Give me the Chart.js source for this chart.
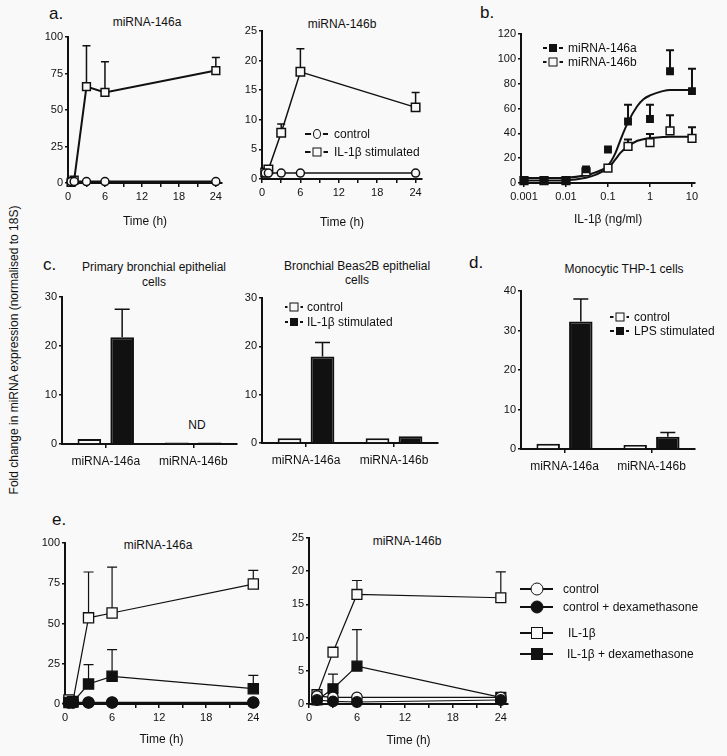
<!DOCTYPE html>
<html>
<head>
<meta charset="utf-8">
<script src="https://cdn.jsdelivr.net/npm/chart.js@4.4.0/dist/chart.umd.min.js"></script>
<style>
  html, body { margin: 0; padding: 0; background: #f9f9f9; }
  body {
    width: 727px; height: 756px; position: relative; overflow: hidden;
    font-family: "Liberation Sans", Arial, Helvetica, sans-serif; color: #111;
  }
  canvas { position: absolute; }
  .txt { position: absolute; font-size: 12px; line-height: 14px; white-space: nowrap; transform: translate(-50%, -50%); }
  .letter { position: absolute; font-size: 17px; line-height: 18px; transform: translateY(-50%); }
  .ylab { position: absolute; left: 14px; top: 350px; font-size: 12px; white-space: nowrap; transform: translate(-50%, -50%) rotate(-90deg); }
  .legtxt { position: absolute; font-size: 12px; line-height: 14px; white-space: nowrap; transform: translateY(-50%); }
  .sym { position: absolute; height: 0; }
  .sym .ln { position: absolute; left: 0; right: 0; top: -0.75px; height: 1.5px; background: #111; }
  .sym .mk { position: absolute; left: 50%; top: 0; transform: translate(-50%, -50%); box-sizing: border-box;
             border: 1.5px solid #111; background: #f9f9f9; }
</style>
</head>
<body>

<div class="ylab">Fold change in miRNA expression (normalised to 18S)</div>

<div class="letter" style="left:49px; top:14px;">a.</div>
<div class="letter" style="left:480px; top:13px;">b.</div>
<div class="letter" style="left:43px; top:265px;">c.</div>
<div class="letter" style="left:469px; top:263px;">d.</div>
<div class="letter" style="left:52px; top:520px;">e.</div>

<div class="txt" style="left:147px; top:22px;">miRNA-146a</div>
<div class="txt" style="left:342px; top:24px;">miRNA-146b</div>
<div class="txt" style="left:154px; top:267px;">Primary bronchial epithelial</div>
<div class="txt" style="left:154px; top:282px;">cells</div>
<div class="txt" style="left:357px; top:266px;">Bronchial Beas2B epithelial</div>
<div class="txt" style="left:357px; top:280px;">cells</div>
<div class="txt" style="left:624px; top:269px;">Monocytic THP-1 cells</div>
<div class="txt" style="left:158px; top:545px;">miRNA-146a</div>
<div class="txt" style="left:407px; top:541px;">miRNA-146b</div>
<div class="txt" style="left:197px; top:425px;">ND</div>

<script>
// ---- data ----
const hourTicks = [0, 3, 6, 9, 12, 15, 18, 21, 24];
const doseTicks = [0.001, 0.01, 0.1, 1, 10];
const mirs = ["miRNA-146a", "miRNA-146b"];

// a. IL-1β time course
const timeA1 = [0.5, 1, 3, 6, 24];
const a1Control = [1, 1, 1, 1, 1];
const a1IL = [0.5, 2, 66, 62, 77];
const a1ILErr = [null, null, 94, 83, 86];
const timeA2 = [0.5, 1, 3, 6, 24];
const a2Control = [1, 1, 1, 1, 1];
const a2IL = [1.1, 1.6, 7.8, 18.1, 12.1];
const a2ILErr = [null, null, 9.3, 22, 14.6];

// b. dose response
const doseB = [0.001, 0.003, 0.01, 0.03, 0.1, 0.3, 1, 3, 10];
const b146a = [2, 2, 2, 11, 27, 49.5, 51.5, 90, 74];
const b146aErr = [null, null, null, null, null, 63, 63, 107, 92];
const b146b = [2, 2, 2, 9, 12, 29.5, 32.5, 42, 36];
const b146bErr = [null, null, null, null, null, 35, 39.5, 54.5, 45];
const fitDose = [0.001, 0.01, 0.03, 0.05, 0.1, 0.15, 0.2, 0.3, 0.5, 0.7, 1, 2, 3, 10];
const fit146a = [4, 4.3, 6.2, 8.5, 14, 24, 35, 49, 62, 67.5, 70.5, 74, 75, 75];
const fit146b = [2, 2.3, 4.3, 6.5, 12, 19, 24.5, 29.5, 34, 35.3, 36.2, 37, 37.3, 37.3];

// c. epithelial cells (146b in primary cells not detected)
const c1Control = [1.0, 0.3];
const c1IL = [21.8, 0.3];
const c1ILErr = [27.5, null];
const c2Control = [1.0, 1.0];
const c2IL = [17.9, 1.4];
const c2ILErr = [20.8, null];

// d. THP-1 cells
const dControl = [1.3, 1.0];
const dLPS = [32.3, 3.1];
const dLPSErr = [38, 4.2];

// e. dexamethasone
const timeE1 = [0.5, 1, 3, 6, 24];
const e1Control = [1, 1, 1, 1, 1];
const e1ControlDex = [0.8, 0.8, 0.8, 0.8, 0.8];
const e1IL = [2.5, 1.5, 53.5, 56.5, 74.5];
const e1ILErr = [null, null, 82, 85, 83];
const e1ILDex = [1.0, 1.2, 12.4, 17.2, 9.5];
const e1ILDexErr = [null, null, 24.5, 33.8, 17.8];
const timeE2 = [1, 3, 6, 24];
const e2Control = [1.2, 1.0, 1.0, 1.0];
const e2ControlDex = [0.6, 0.4, 0.3, 0.6];
const e2IL = [1.4, 7.8, 16.5, 16.0];
const e2ILErr = [null, null, 18.6, 19.9];
const e2ILDex = [0.6, 2.3, 5.7, 1.0];
const e2ILDexErr = [null, 4.5, 11.2, null];

// ---- setup ----
const INK = "#111";
const BG = "#f9f9f9";
Chart.defaults.font.family = '"Liberation Sans", Arial, Helvetica, sans-serif';
Chart.defaults.font.size = 11;
Chart.defaults.color = INK;

// upper error bars, drawn under the markers
const errorBars = {
  id: "errorBars",
  beforeDatasetsDraw(chart) {
    const ctx = chart.ctx;
    chart.data.datasets.forEach(function (ds, di) {
      if (!ds.errors) return;
      const meta = chart.getDatasetMeta(di);
      const ys = chart.scales[meta.yAxisID];
      ctx.save();
      ctx.strokeStyle = INK;
      ctx.lineWidth = ds.errWidth || 1.5;
      ds.errors.forEach(function (e, i) {
        if (e == null) return;
        const el = meta.data[i];
        const top = ys.getPixelForValue(e);
        const half = (ds.capWidth || 8) / 2;
        ctx.beginPath();
        ctx.moveTo(el.x, el.y);
        ctx.lineTo(el.x, top);
        ctx.moveTo(el.x - half, top);
        ctx.lineTo(el.x + half, top);
        ctx.stroke();
      });
      ctx.restore();
    });
  },
};

// canvas placed so that the plot area lands on box {l,t,r,b}
function makeCanvas(box) {
  const c = document.createElement("canvas");
  const w = box.r - box.l + 40 + 16;
  const h = box.b - box.t + 14 + box.xh;
  c.width = w;
  c.height = h;
  c.style.left = box.l - 40 + "px";
  c.style.top = box.t - 14 + "px";
  c.style.width = w + "px";
  c.style.height = h + "px";
  document.body.appendChild(c);
  return c;
}

function yAxis(max, step) {
  return {
    min: 0,
    max: max,
    ticks: { stepSize: step, padding: 2 },
    grid: { drawOnChartArea: false, tickLength: 3, color: INK, lineWidth: 1.5 },
    border: { color: INK, width: 2 },
    afterFit: function (s) { s.width = 40; },
  };
}

function timeAxis(max, xh) {
  return {
    type: "linear",
    min: 0,
    max: max,
    afterBuildTicks: function (s) { s.ticks = hourTicks.map(function (v) { return { value: v }; }); },
    ticks: {
      autoSkip: false, maxRotation: 0, padding: 3,
      callback: function (v) { return v % 6 === 0 ? String(v) : ""; },
    },
    grid: { drawOnChartArea: false, tickLength: 4, color: INK, lineWidth: 1.5 },
    border: { color: INK, width: 2 },
    title: { display: true, text: "Time (h)", font: { size: 12 }, padding: 0 },
    afterFit: function (s) { s.height = xh; },
  };
}

function catAxis() {
  return {
    type: "category",
    offset: true,
    ticks: { padding: 6, font: { size: 12 } },
    grid: { offset: false, drawOnChartArea: false, tickLength: 4, color: INK, lineWidth: 1.5 },
    border: { color: INK, width: 2 },
    afterFit: function (s) { s.height = 30; },
  };
}

function series(xs, ys, errs, style) {
  return Object.assign({
    data: xs.map(function (x, i) { return { x: x, y: ys[i] }; }),
    errors: errs,
    borderColor: INK,
    borderWidth: 2,
    pointBorderColor: INK,
    pointBorderWidth: 1.5,
    pointBackgroundColor: BG,
    pointStyle: "rect",
    pointRadius: 6,
    clip: false,
    tension: 0,
  }, style);
}

function baseOptions(scales) {
  return {
    responsive: false,
    animation: false,
    events: [],
    layout: { padding: { left: 0, top: 14, right: 16, bottom: 0 } },
    plugins: { legend: { display: false }, tooltip: { enabled: false } },
    scales: scales,
  };
}

function lineChart(box, datasets, xMax, yMax, yStep) {
  new Chart(makeCanvas(box), {
    type: "line",
    data: { datasets: datasets },
    options: baseOptions({ x: timeAxis(xMax, box.xh), y: yAxis(yMax, yStep) }),
    plugins: [errorBars],
  });
}

function barChart(box, ctrl, stim, stimErr, yMax) {
  new Chart(makeCanvas(box), {
    type: "bar",
    data: {
      labels: mirs,
      datasets: [
        { data: ctrl, backgroundColor: BG, borderColor: INK, borderWidth: 2,
          categoryPercentage: 0.75, barPercentage: 0.72 },
        { data: stim, errors: stimErr, capWidth: 15, errWidth: 1.5,
          backgroundColor: INK, borderColor: INK, borderWidth: 2,
          categoryPercentage: 0.75, barPercentage: 0.72 },
      ],
    },
    options: baseOptions({ x: catAxis(), y: yAxis(yMax, 10) }),
    plugins: [errorBars],
  });
}

// ---- a. ----
lineChart({ l: 68, t: 37, r: 222, b: 183, xh: 46 }, [
  series(timeA1, a1Control, null, { pointStyle: "circle", pointRadius: 4 }),
  series(timeA1, a1IL, a1ILErr, { pointRadius: 5.5, capWidth: 8 }),
], 25, 100, 25);

lineChart({ l: 262, t: 31, r: 422, b: 179, xh: 51 }, [
  series(timeA2, a2Control, null, { pointStyle: "circle", pointRadius: 4, borderWidth: 1.5 }),
  series(timeA2, a2IL, a2ILErr, { pointRadius: 6, capWidth: 8, borderWidth: 1.5 }),
], 25, 25, 5);

// ---- b. ----
new Chart(makeCanvas({ l: 521, t: 34, r: 695, b: 183, xh: 44 }), {
  type: "line",
  data: {
    datasets: [
      series(doseB, b146a, b146aErr, { showLine: false, pointBackgroundColor: INK, pointRadius: 4.5, capWidth: 8, errWidth: 2 }),
      series(doseB, b146b, b146bErr, { showLine: false, pointRadius: 5.5, capWidth: 8, errWidth: 2 }),
      series(fitDose, fit146a, null, { pointRadius: 0, cubicInterpolationMode: "monotone" }),
      series(fitDose, fit146b, null, { pointRadius: 0, cubicInterpolationMode: "monotone" }),
    ],
  },
  options: baseOptions({
    x: {
      type: "logarithmic",
      min: 0.000849,
      max: 11.8,
      afterBuildTicks: function (s) { s.ticks = doseTicks.map(function (v) { return { value: v }; }); },
      ticks: { autoSkip: false, maxRotation: 0, padding: 3, callback: function (v) { return String(v); } },
      grid: { drawOnChartArea: false, tickLength: 4, color: INK, lineWidth: 1.5 },
      border: { color: INK, width: 2 },
      title: { display: true, text: "IL-1β (ng/ml)", font: { size: 12 }, padding: 0 },
      afterFit: function (s) { s.height = 44; },
    },
    y: yAxis(120, 20),
  }),
  plugins: [errorBars],
});

// ---- c. and d. ----
barChart({ l: 62, t: 297, r: 237, b: 444, xh: 30 }, c1Control, c1IL, c1ILErr, 30);
barChart({ l: 262, t: 298, r: 438, b: 443, xh: 30 }, c2Control, c2IL, c2ILErr, 30);
barChart({ l: 521, t: 291, r: 695, b: 449, xh: 30 }, dControl, dLPS, dLPSErr, 40);

// ---- e. ----
const thin = { borderWidth: 1.2, pointBorderWidth: 1.3, errWidth: 1.2, capWidth: 10 };
lineChart({ l: 65, t: 543, r: 258, b: 704, xh: 43 }, [
  series(timeE1, e1ControlDex, null, Object.assign({}, thin, { pointStyle: "circle", pointRadius: 5.5, pointBackgroundColor: INK })),
  series(timeE1, e1Control, null, Object.assign({}, thin, { pointStyle: "circle", pointRadius: 5.5 })),
  series(timeE1, e1ILDex, e1ILDexErr, Object.assign({}, thin, { pointRadius: 7.2, pointBackgroundColor: INK })),
  series(timeE1, e1IL, e1ILErr, Object.assign({}, thin, { pointRadius: 7.2 })),
], 24.6, 100, 25);

lineChart({ l: 309, t: 538, r: 508, b: 704, xh: 44 }, [
  series(timeE2, e2ControlDex, null, Object.assign({}, thin, { pointStyle: "circle", pointRadius: 5.3, pointBackgroundColor: INK })),
  series(timeE2, e2Control, null, Object.assign({}, thin, { pointStyle: "circle", pointRadius: 5.3 })),
  series(timeE2, e2ILDex, e2ILDexErr, Object.assign({}, thin, { pointRadius: 7, pointBackgroundColor: INK })),
  series(timeE2, e2IL, e2ILErr, Object.assign({}, thin, { pointRadius: 7 })),
], 24.9, 25, 5);

// ---- legends ----
function legendRow(x, y, w, tx, mark, text) {
  const s = document.createElement("div");
  s.className = "sym";
  s.style.left = x + "px";
  s.style.top = y + "px";
  s.style.width = w + "px";
  const ln = document.createElement("div");
  ln.className = "ln";
  s.appendChild(ln);
  const mk = document.createElement("div");
  mk.className = "mk";
  mk.style.width = mark.w + "px";
  mk.style.height = mark.h + "px";
  if (mark.round) mk.style.borderRadius = "50%";
  if (mark.fill) mk.style.background = INK;
  if (mark.gap) mk.style.boxShadow = "0 0 0 " + mark.gap + "px " + BG;
  s.appendChild(mk);
  document.body.appendChild(s);
  const t = document.createElement("div");
  t.className = "legtxt";
  t.style.left = tx + "px";
  t.style.top = y + "px";
  t.textContent = text;
  document.body.appendChild(t);
}

const oCirc = { w: 8, h: 10, round: true, gap: 2 };
const oSq = { w: 9, h: 9, gap: 2 };
const fSq = { w: 8, h: 8, fill: true, gap: 2 };

legendRow(305, 134, 23, 334, oCirc, "control");
legendRow(305, 152, 23, 334, oSq, "IL-1β stimulated");

legendRow(543, 48, 20, 568, fSq, "miRNA-146a");
legendRow(543, 62, 20, 568, oSq, "miRNA-146b");

legendRow(285, 307, 18, 307, oSq, "control");
legendRow(285, 322, 18, 307, fSq, "IL-1β stimulated");

legendRow(610, 317, 19, 634, oSq, "control");
legendRow(610, 331, 19, 634, fSq, "LPS stimulated");

legendRow(520, 589, 33, 563, { w: 13, h: 13, round: true }, "control");
legendRow(520, 607, 33, 563, { w: 13, h: 13, round: true, fill: true }, "control + dexamethasone");
legendRow(520, 633, 33, 568, { w: 12, h: 12 }, "IL-1β");
legendRow(520, 654, 33, 567, { w: 12, h: 12, fill: true }, "IL-1β + dexamethasone");
</script>
</body>
</html>
